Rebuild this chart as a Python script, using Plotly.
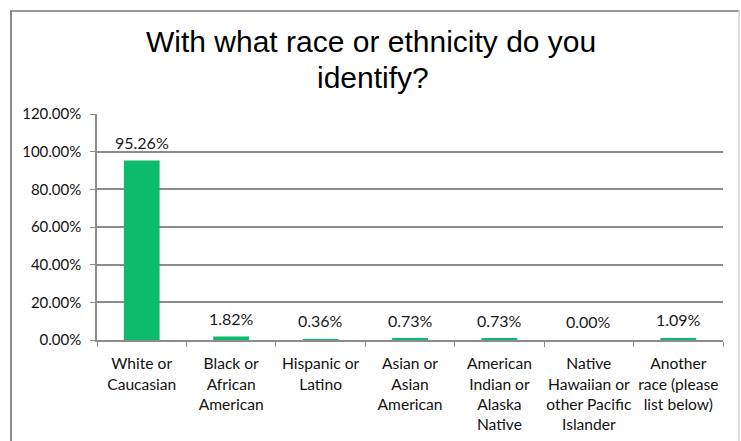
import plotly.graph_objects as go

categories = [
    "White or<br>Caucasian",
    "Black or<br>African<br>American",
    "Hispanic or<br>Latino",
    "Asian or<br>Asian<br>American",
    "American<br>Indian or<br>Alaska<br>Native",
    "Native<br>Hawaiian or<br>other Pacific<br>Islander",
    "Another<br>race (please<br>list below)",
]
values = [0.9526, 0.0182, 0.0036, 0.0073, 0.0073, 0.0000, 0.0109]
labels = ["95.26%", "1.82%", "0.36%", "0.73%", "0.73%", "0.00%", "1.09%"]
title_lines = ["With what race or ethnicity do you", "identify?"]

W, H = 741, 441
L, R, T, B = 97, 723, 114, 340  # plot area in pixels


def px_x(p):
    return (p - L) / (R - L)


def px_y(p):
    return (B - p) / (B - T)


fig = go.Figure(
    go.Bar(
        x=categories,
        y=values,
        marker=dict(color="#0DBB6C", line=dict(width=0)),
        hoverinfo="skip",
    )
)

label_font = dict(family="Lato, Open Sans, sans-serif", size=16, color="#1a1a1a")
title_font = dict(family="Liberation Sans, Arial, sans-serif", size=30, color="#000000")
annotations = [
    dict(text=title_lines[0], xref="paper", yref="paper", x=px_x(371), y=px_y(42),
         xanchor="center", yanchor="middle", showarrow=False, font=title_font),
    dict(text=title_lines[1], xref="paper", yref="paper", x=px_x(373), y=px_y(77),
         xanchor="center", yanchor="middle", showarrow=False, font=title_font),
]
for c, v, t in zip(categories, values, labels):
    annotations.append(
        dict(text=t, x=c, y=v, xref="x", yref="y", xanchor="center", yanchor="bottom",
             yshift=7, showarrow=False, font=label_font)
    )

fig.update_layout(
    width=W,
    height=H,
    margin=dict(l=L, r=W - R, t=T, b=H - B, pad=0, autoexpand=False),
    paper_bgcolor="white",
    plot_bgcolor="white",
    bargap=0.6,
    showlegend=False,
    annotations=annotations,
    shapes=[
        dict(type="line", xref="paper", yref="paper", x0=px_x(10), x1=px_x(740), y0=px_y(11), y1=px_y(11),
             line=dict(color="#999999", width=2)),
        dict(type="line", xref="paper", yref="paper", x0=px_x(11), x1=px_x(11), y0=px_y(10), y1=px_y(450),
             line=dict(color="#8c8c8c", width=2)),
        dict(type="line", xref="paper", yref="paper", x0=px_x(739), x1=px_x(739), y0=px_y(10), y1=px_y(450),
             line=dict(color="#d4d4d4", width=1.5)),
    ],
)

fig.update_yaxes(
    automargin=False,
    range=[0, 1.2],
    dtick=0.2,
    tickformat=".2%",
    showgrid=True,
    gridcolor="#8c8c8c",
    gridwidth=1.5,
    showline=True,
    linecolor="#8c8c8c",
    linewidth=1.5,
    ticks="outside",
    ticklen=5,
    tickcolor="#8c8c8c",
    ticklabelstandoff=6,
    tickfont=dict(family="Lato, Open Sans, sans-serif", size=15, color="#111111"),
    zeroline=False,
    fixedrange=True,
)
fig.update_xaxes(
    automargin=False,
    showline=True,
    linecolor="#8c8c8c",
    linewidth=1.5,
    ticks="outside",
    tickson="boundaries",
    ticklen=5,
    tickcolor="#8c8c8c",
    tickangle=0,
    ticklabelstandoff=9,
    tickfont=dict(family="Lato, Open Sans, sans-serif", size=15.6, color="#111111"),
    fixedrange=True,
)

fig.write_html(
    "out.html",
    config={"displayModeBar": False},
    post_script="document.body.style.margin='0';document.body.style.overflow='hidden';",
)
